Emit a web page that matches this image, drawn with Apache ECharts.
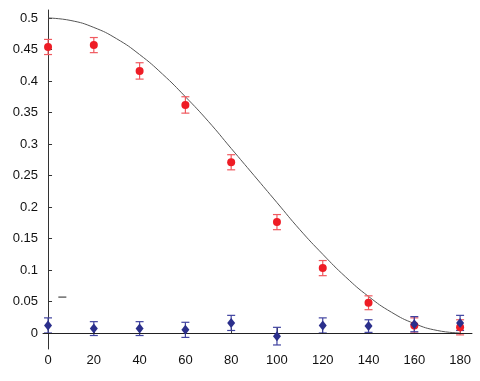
<!DOCTYPE html>
<html><head><meta charset="utf-8">
<script src="https://cdn.jsdelivr.net/npm/echarts@6/dist/echarts.min.js"></script>
<style>html,body{margin:0;padding:0;background:#fff}#c{width:480px;height:381px}</style>
</head><body><div id="c"></div>
<script>
var angles = [0,20,40,60,80,100,120,140,160,180];
var redVals = [0.454,0.457,0.416,0.362,0.271,0.176,0.103,0.048,0.012,0.009];
var redErr  = [0.012,0.012,0.013,0.013,0.012,0.012,0.012,0.011,0.012,0.012];
var blueVals = [0.012,0.007,0.007,0.005,0.016,-0.005,0.012,0.011,0.014,0.016];
var blueErr  = [0.012,0.011,0.011,0.012,0.012,0.014,0.012,0.010,0.012,0.012];
var curveX = [0,10,20,30,40,50,60,70,80,90,100,110,120,130,140,150,160,170,180];
var curveY = [0.5,0.496,0.485,0.467,0.442,0.411,0.375,0.336,0.293,0.25,0.207,0.164,0.125,0.089,0.058,0.033,0.015,0.004,0];
var strayMark = [[4.5,0.057],[8,0.057]];
var xTicks = [0,20,40,60,80,100,120,140,160,180];
var yTicks = [0,0.05,0.1,0.15,0.2,0.25,0.3,0.35,0.4,0.45,0.5];

function zip(a,b){return a.map(function(v,i){return [v,b[i]];});}
function errData(v,e){return angles.map(function(x,i){return [x, v[i]-e[i], v[i]+e[i]];});}
function errSeries(data,color){
  return {type:'custom', data:data, z:3, silent:true,
    renderItem:function(params,api){
      var lo=api.coord([api.value(0),api.value(1)]);
      var hi=api.coord([api.value(0),api.value(2)]);
      var w=4;
      var st={stroke:color,lineWidth:1.2};
      return {type:'group',children:[
        {type:'line',shape:{x1:lo[0],y1:lo[1],x2:hi[0],y2:hi[1]},style:st},
        {type:'line',shape:{x1:lo[0]-w,y1:lo[1],x2:lo[0]+w,y2:lo[1]},style:st},
        {type:'line',shape:{x1:hi[0]-w,y1:hi[1],x2:hi[0]+w,y2:hi[1]},style:st}
      ]};
    }};
}
var chart = echarts.init(document.getElementById('c'));
var lbl = {color:'#111',fontSize:13,fontFamily:'Liberation Sans, Arial, sans-serif'};
chart.setOption({
  animation:false,
  grid:{left:43,right:8,top:10,bottom:32,containLabel:false},
  xAxis:{type:'value',min:-2.2,max:185.2,
    axisLine:{show:true,lineStyle:{color:'#333',width:1}},
    axisTick:{show:true,inside:true,length:5,customValues:xTicks,lineStyle:{color:'#333'}},
    axisLabel:Object.assign({customValues:xTicks,margin:5},lbl),
    splitLine:{show:false}},
  yAxis:{type:'value',min:-0.0254,max:0.5127,
    axisLine:{show:true,lineStyle:{color:'#333',width:1}},
    axisTick:{show:true,inside:true,length:4,customValues:yTicks,lineStyle:{color:'#333'}},
    axisLabel:Object.assign({customValues:yTicks,margin:5},lbl),
    splitLine:{show:false}},
  series:[
    {type:'line',data:zip(curveX,curveY),smooth:true,symbol:'none',
     lineStyle:{color:'#555',width:1},z:2,
     markLine:{silent:true,symbol:'none',label:{show:false},
       lineStyle:{color:'#222',width:1.2,type:'solid'},data:[{yAxis:0}]}},
    {type:'line',data:strayMark,symbol:'none',lineStyle:{color:'#222',width:1},z:2},
    errSeries(errData(redVals,redErr),'#f0595f'),
    errSeries(errData(blueVals,blueErr),'#4043a0'),
    {type:'scatter',data:zip(angles,redVals),symbol:'circle',symbolSize:8,
     itemStyle:{color:'#ee1c25',opacity:1},z:4},
    {type:'scatter',data:zip(angles,blueVals),symbol:'diamond',symbolSize:[8,10],
     itemStyle:{color:'#2b2f8c',opacity:1},z:5}
  ]
});
</script></body></html>
